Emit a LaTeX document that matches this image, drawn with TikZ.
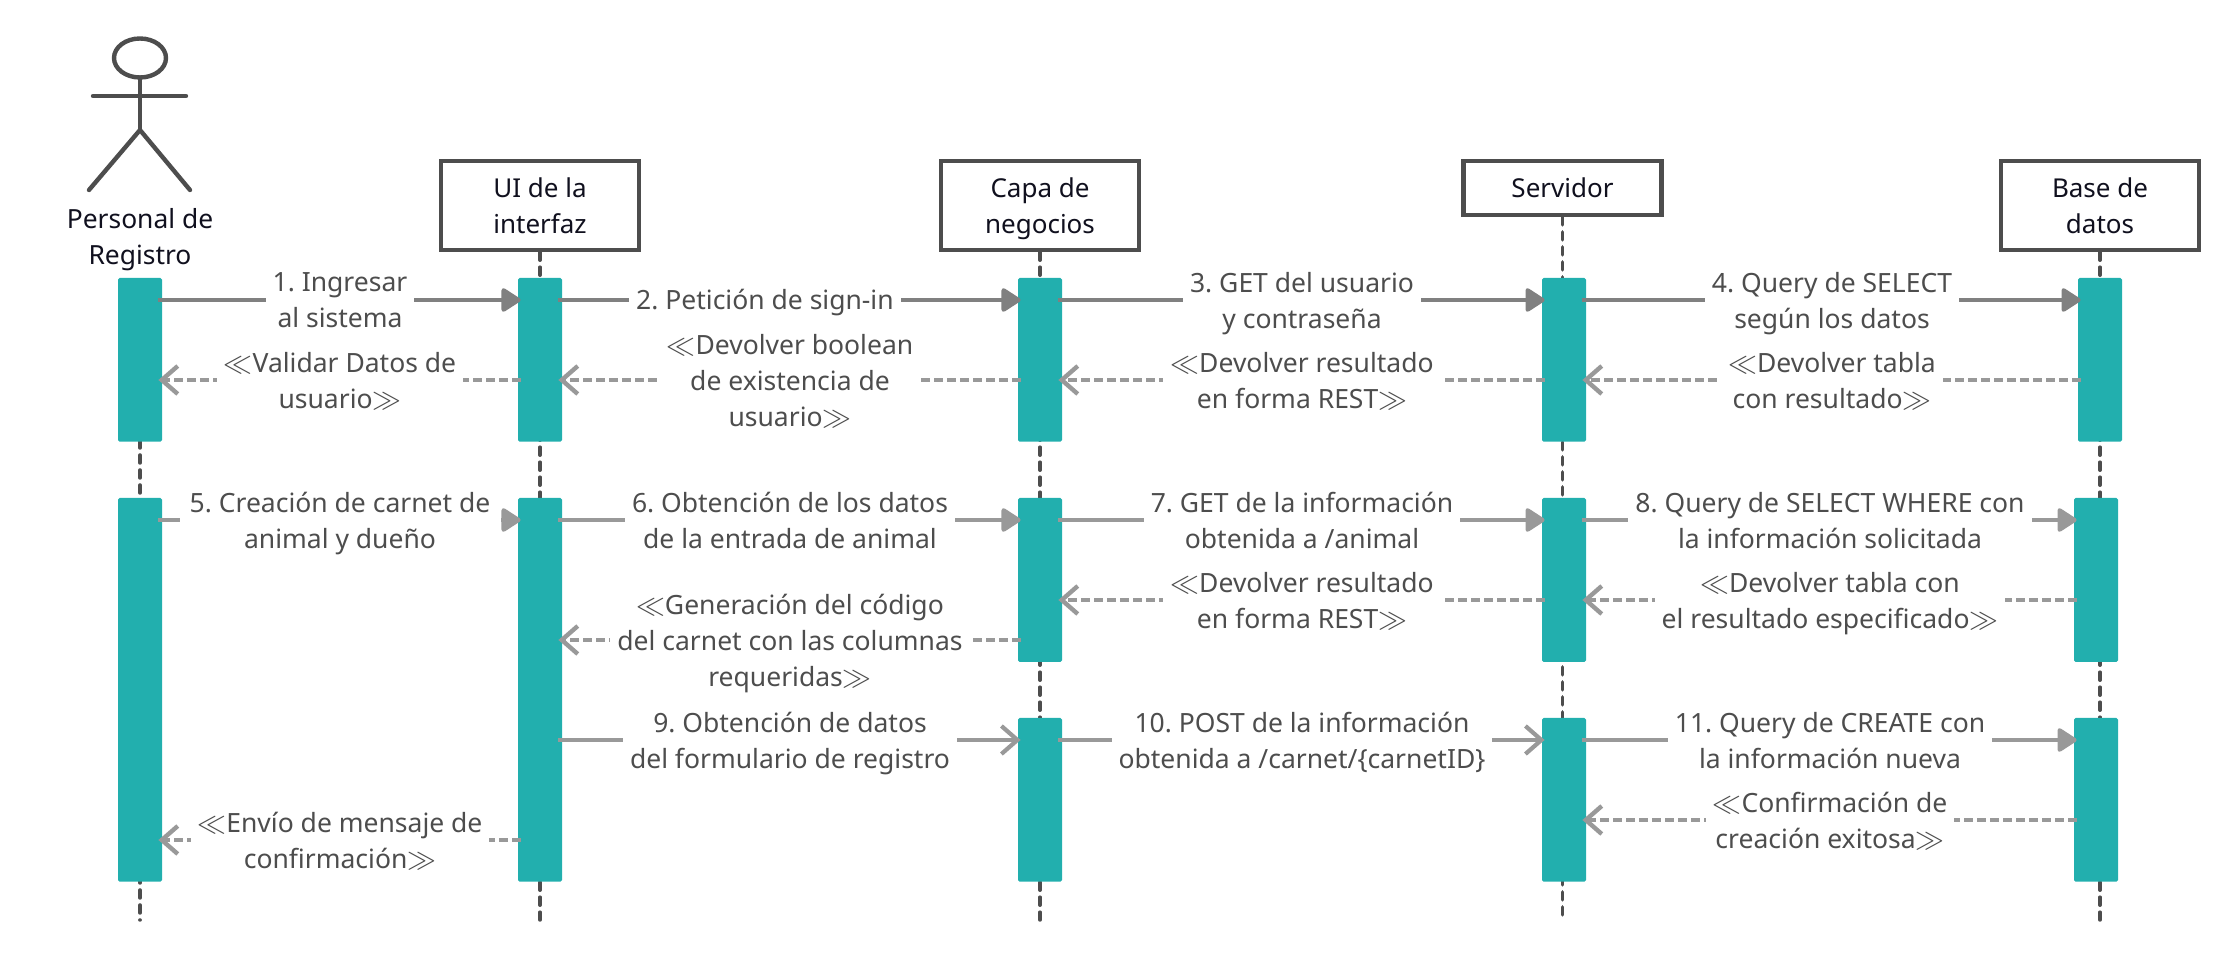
\documentclass[tikz,border=0pt]{standalone}
\usepackage{fontspec}
\setmainfont{Noto Sans}
\frenchspacing
\usepackage{xcolor}
\usetikzlibrary{shapes.geometric}
\usetikzlibrary{arrows.meta}
\definecolor{barteal}{HTML}{22AFAE}
\definecolor{boxgray}{HTML}{4D4D4D}
\definecolor{textgray}{HTML}{4D4D4D}
\definecolor{boxtext}{HTML}{10101E}
\definecolor{calldark}{HTML}{808080}
\definecolor{calllight}{HTML}{999999}
\tikzset{
  head/.style={draw=boxgray, line width=2.2pt, fill=white, align=center, text=boxtext, minimum width=99pt, inner sep=0pt,
    text depth=0pt, font=\fontsize{13}{18}\selectfont},
  stick/.style={draw=boxgray, line width=2.2pt, line cap=round},
  lifeline/.style={draw=boxgray, line width=1.75pt, line cap=round, dash pattern=on 4pt off 3.5pt},
  bar/.style={fill=barteal, minimum width=22pt, inner sep=0pt, rounded corners=0.8pt},
  lbl/.style={fill=white, align=center, text=textgray, inner xsep=3.5pt, inner ysep=0pt, yshift=-2.8pt,
    font=\fontsize{13.25}{18}\selectfont, execute at begin node=\strut, execute at end node=\strut},
  call/.style={line width=2.1pt, shorten <=-2pt, shorten >=-1.5pt, -{Triangle[round,length=10.5pt,width=13pt]}},
  calldk/.style={call, draw=calldark},
  calllt/.style={call, draw=calllight},
  callopen/.style={line width=2.1pt, draw=calllight, shorten <=-2pt, shorten >=-1.5pt, -{Straight Barb[length=8pt,width=14pt]}},
  ret/.style={line width=2.2pt, draw=calllight, dash pattern=on 4.5pt off 2pt, shorten <=-1.5pt, shorten >=-2pt, -{Straight Barb[length=8pt,width=14pt]}}
}
\newcommand{\opn}{$\ll$}
\newcommand{\cls}{$\gg$}

\begin{document}
\begin{tikzpicture}[x=0.5pt,y=-0.5pt]
  \useasboundingbox (0,0) rectangle (2240,961);

  % Actor
  \node[draw=boxgray, line width=2.2pt, ellipse, minimum width=26pt, minimum height=19.5pt, inner sep=0pt] (actHead) at (140,58) {};
  \coordinate (actHip) at (140,130);
  \coordinate (armL) at (93,96);
  \coordinate (armR) at (186,96);
  \coordinate (legL) at (89,190);
  \coordinate (legR) at (190,190);
  \draw[stick] (actHead) -- (actHip);
  \draw[stick] (armL) -- (armR);
  \draw[stick] (legL) -- (actHip) -- (legR);
  \node[align=center, text=boxtext, font=\fontsize{13.2}{18}\selectfont] (actor) at (140,240) {Personal de\\Registro};

  % Lifelines
  \node[head, minimum height=44.5pt] (ui) at (540,205.5) {UI de la\\interfaz};
  \node[head, minimum height=44.5pt] (capa) at (1040,205.5) {Capa de\\negocios};
  \node[head, minimum height=26.75pt] (serv) at (1562.5,188) {Servidor};
  \node[head, minimum height=44.5pt] (base) at (2100,205.5) {Base de\\datos};

  \coordinate (actTop) at (140,290);
  \coordinate (actEnd) at (140,920);
  \coordinate (uiEnd) at (540,920);
  \coordinate (capaEnd) at (1040,920);
  \coordinate (servEnd) at (1562.5,920);
  \coordinate (baseEnd) at (2100,920);
  \draw[lifeline] (actTop) -- (actEnd);
  \draw[lifeline] (ui) -- (uiEnd);
  \draw[lifeline] (capa) -- (capaEnd);
  \draw[lifeline] (serv) -- (servEnd);
  \draw[lifeline] (base) -- (baseEnd);

  % Activation bars
  \node[bar, minimum height=81.85pt] (actBar1) at (140,359.8) {};
  \node[bar, minimum height=191.85pt] (actBar2) at (140,689.8) {};
  \node[bar, minimum height=81.85pt] (uiBar1) at (540,359.8) {};
  \node[bar, minimum height=191.85pt] (uiBar2) at (540,689.8) {};
  \node[bar, minimum height=81.85pt] (capaBar1) at (1040,359.8) {};
  \node[bar, minimum height=82pt] (capaBar2) at (1040,580) {};
  \node[bar, minimum height=81.85pt] (capaBar3) at (1040,799.8) {};
  \node[bar, minimum height=81.85pt] (servBar1) at (1564,359.8) {};
  \node[bar, minimum height=82pt] (servBar2) at (1564,580) {};
  \node[bar, minimum height=81.85pt] (servBar3) at (1564,799.8) {};
  \node[bar, minimum height=81.85pt] (baseBar1) at (2100,359.8) {};
  \node[bar, minimum height=82pt] (baseBar2) at (2096,580) {};
  \node[bar, minimum height=81.85pt] (baseBar3) at (2096,799.8) {};

  \coordinate (row1) at (0,300);
  \coordinate (row2) at (0,380);
  \coordinate (row3) at (0,520);
  \coordinate (row4) at (0,600);
  \coordinate (row5) at (0,640);
  \coordinate (row6) at (0,740);
  \coordinate (row7) at (0,820);
  \coordinate (row8) at (0,840);

  % Messages
  \draw[calldk] (actBar1.east |- row1) -- node[lbl] {1. Ingresar\\al sistema} (uiBar1.west |- row1);
  \draw[calldk] (uiBar1.east |- row1) -- node[lbl, pos=0.445, yshift=1.4pt] {2. Petición de sign-in} (capaBar1.west |- row1);
  \draw[calldk] (capaBar1.east |- row1) -- node[lbl] {3. GET del usuario\\y contraseña} (servBar1.west |- row1);
  \draw[calldk] (servBar1.east |- row1) -- node[lbl] {4. Query de SELECT\\según los datos} (baseBar1.west |- row1);

  \draw[ret] (uiBar1.west |- row2) -- node[lbl] {\opn Validar Datos de\\usuario\cls} (actBar1.east |- row2);
  \draw[ret] (capaBar1.west |- row2) -- node[lbl] {\opn Devolver boolean\\de existencia de\\usuario\cls} (uiBar1.east |- row2);
  \draw[ret] (servBar1.west |- row2) -- node[lbl] {\opn Devolver resultado\\en forma REST\cls} (capaBar1.east |- row2);
  \draw[ret] (baseBar1.west |- row2) -- node[lbl] {\opn Devolver tabla\\con resultado\cls} (servBar1.east |- row2);

  \draw[calllt] (actBar2.east |- row3) -- node[lbl, minimum width=160.5pt] {5. Creación de carnet de\\animal y dueño} (uiBar2.west |- row3);
  \draw[calllt] (uiBar2.east |- row3) -- node[lbl] {6. Obtención de los datos\\de la entrada de animal} (capaBar2.west |- row3);
  \draw[calllt] (capaBar2.east |- row3) -- node[lbl] {7. GET de la información\\obtenida a /animal} (servBar2.west |- row3);
  \draw[calllt] (servBar2.east |- row3) -- node[lbl] {8. Query de SELECT WHERE con\\la información solicitada} (baseBar2.west |- row3);

  \draw[ret] (servBar2.west |- row4) -- node[lbl] {\opn Devolver resultado\\en forma REST\cls} (capaBar2.east |- row4);
  \draw[ret] (baseBar2.west |- row4) -- node[lbl] {\opn Devolver tabla con\\el resultado especificado\cls} (servBar2.east |- row4);
  \draw[ret] (capaBar2.west |- row5) -- node[lbl] {\opn Generación del código\\del carnet con las columnas\\requeridas\cls} (uiBar2.east |- row5);

  \draw[callopen] (uiBar2.east |- row6) -- node[lbl] {9. Obtención de datos\\del formulario de registro} (capaBar3.west |- row6);
  \draw[callopen] (capaBar3.east |- row6) -- node[lbl] {10. POST de la información\\obtenida a /carnet/\{carnetID\}} (servBar3.west |- row6);
  \draw[calllt] (servBar3.east |- row6) -- node[lbl] {11. Query de CREATE con\\la información nueva} (baseBar3.west |- row6);

  \draw[ret] (baseBar3.west |- row7) -- node[lbl] {\opn Confirmación de\\creación exitosa\cls} (servBar3.east |- row7);
  \draw[ret] (uiBar2.west |- row8) -- node[lbl] {\opn Envío de mensaje de\\confirmación\cls} (actBar2.east |- row8);
\end{tikzpicture}
\end{document}
